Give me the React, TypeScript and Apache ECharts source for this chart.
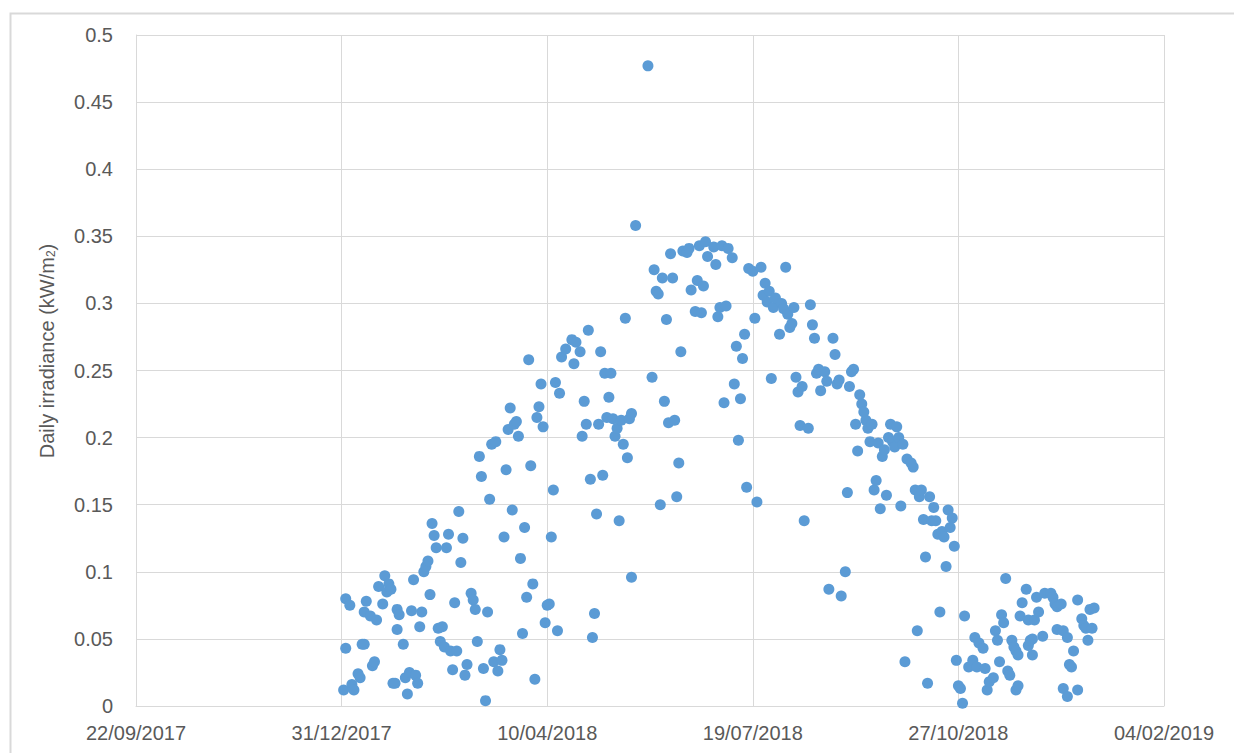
import React, { useEffect, useRef } from "react";
import * as echarts from "echarts";

// Excel date serials: 43100 = 31/12/2017; day offsets below are counted from it
const BASE_SERIAL = 43100;
const X_MIN = 43000;
const X_MAX = 43500;
const X_STEP = 100;
const Y_MIN = 0;
const Y_MAX = 0.5;
const Y_STEP = 0.05;

const Y_TITLE = "Daily irradiance (kW/m{sub|2})";

// [day offset from 31/12/2017, daily irradiance kW/m2]
const janToMar: [number, number][] = [
  [1, 0.012], [2, 0.080], [2, 0.043], [4, 0.075], [5, 0.016], [6, 0.012], [8, 0.024], [9, 0.021],
  [10, 0.046], [11, 0.046], [11, 0.070], [12, 0.078], [14, 0.067], [15, 0.030], [16, 0.033],
  [17, 0.064], [18, 0.089], [20, 0.076], [21, 0.097], [22, 0.085], [23, 0.091], [24, 0.087],
  [25, 0.017], [26, 0.017], [27, 0.057], [27, 0.072], [28, 0.068], [30, 0.046], [31, 0.021],
  [32, 0.009], [33, 0.025], [34, 0.071], [35, 0.094], [36, 0.023], [37, 0.017], [38, 0.059],
  [39, 0.070], [40, 0.100], [41, 0.104], [42, 0.108], [43, 0.083], [44, 0.136], [45, 0.127],
  [46, 0.118], [47, 0.058], [48, 0.048], [49, 0.059], [50, 0.044], [51, 0.118], [52, 0.128],
  [53, 0.041], [54, 0.027], [55, 0.077], [56, 0.041], [57, 0.145], [58, 0.107], [59, 0.125],
  [60, 0.023], [61, 0.031], [63, 0.084], [64, 0.079], [65, 0.072], [66, 0.048], [67, 0.186],
  [68, 0.171], [69, 0.028], [70, 0.004], [71, 0.070], [72, 0.154], [73, 0.195], [74, 0.033],
  [75, 0.197], [76, 0.026], [77, 0.042], [78, 0.034], [79, 0.126], [80, 0.176], [81, 0.206],
  [82, 0.222], [83, 0.146], [84, 0.210], [85, 0.212], [86, 0.201], [87, 0.110], [88, 0.054],
  [89, 0.133], [90, 0.081],
];

const aprToJun: [number, number][] = [
  [91, 0.258], [92, 0.179], [93, 0.091], [94, 0.020], [95, 0.215], [96, 0.223], [97, 0.240],
  [98, 0.208], [99, 0.062], [100, 0.075], [101, 0.076], [102, 0.126], [103, 0.161], [104, 0.241],
  [105, 0.056], [106, 0.233], [107, 0.260], [109, 0.266], [112, 0.273], [113, 0.255], [114, 0.271],
  [116, 0.264], [117, 0.201], [118, 0.227], [119, 0.210], [120, 0.280], [121, 0.169], [122, 0.051],
  [123, 0.069], [124, 0.143], [125, 0.210], [126, 0.264], [127, 0.172], [128, 0.248], [129, 0.215],
  [130, 0.230], [131, 0.248], [132, 0.214], [133, 0.201], [134, 0.207], [135, 0.138], [136, 0.213],
  [137, 0.195], [138, 0.289], [139, 0.185], [140, 0.214], [141, 0.218], [141, 0.096], [143, 0.358],
  [149, 0.477], [151, 0.245], [152, 0.325], [153, 0.309], [154, 0.307], [155, 0.150], [156, 0.319],
  [157, 0.227], [158, 0.288], [159, 0.211], [160, 0.337], [161, 0.319], [162, 0.213], [163, 0.156],
  [164, 0.181], [165, 0.264], [166, 0.339], [168, 0.338], [169, 0.341], [170, 0.310], [172, 0.294],
  [173, 0.317], [174, 0.343], [175, 0.293], [176, 0.313], [177, 0.346], [178, 0.335], [181, 0.342],
];

const julToSep: [number, number][] = [
  [182, 0.329], [183, 0.290], [184, 0.297], [185, 0.343], [186, 0.226], [187, 0.298], [188, 0.341],
  [190, 0.334], [191, 0.240], [192, 0.268], [193, 0.198], [194, 0.229], [195, 0.259], [196, 0.277],
  [197, 0.163], [198, 0.326], [200, 0.324], [201, 0.289], [202, 0.152], [204, 0.327], [205, 0.306],
  [206, 0.315], [207, 0.301], [208, 0.309], [209, 0.244], [210, 0.297], [211, 0.304], [213, 0.277],
  [214, 0.300], [215, 0.296], [216, 0.327], [217, 0.292], [218, 0.282], [219, 0.285], [220, 0.297],
  [221, 0.245], [222, 0.234], [223, 0.209], [224, 0.238], [225, 0.138], [227, 0.207], [228, 0.299],
  [229, 0.284], [230, 0.274], [231, 0.248], [232, 0.251], [233, 0.235], [235, 0.249], [236, 0.242],
  [237, 0.087], [239, 0.274], [240, 0.262], [241, 0.240], [242, 0.243], [243, 0.082], [245, 0.100],
  [246, 0.159], [247, 0.238], [248, 0.249], [249, 0.251], [250, 0.210], [251, 0.190], [252, 0.232],
  [253, 0.225], [254, 0.219], [255, 0.213], [256, 0.207], [257, 0.197], [258, 0.210], [259, 0.161],
  [260, 0.168], [261, 0.196], [262, 0.147], [263, 0.186], [264, 0.191], [265, 0.157], [266, 0.200],
  [267, 0.210], [268, 0.197], [269, 0.193], [270, 0.208], [271, 0.200], [272, 0.149], [273, 0.195],
];

const octToJan: [number, number][] = [
  [274, 0.033], [275, 0.184], [277, 0.181], [278, 0.178], [279, 0.161], [280, 0.056], [281, 0.156],
  [282, 0.161], [283, 0.139], [284, 0.111], [285, 0.017], [286, 0.156], [287, 0.138], [288, 0.148],
  [289, 0.138], [290, 0.128], [291, 0.070], [292, 0.130], [293, 0.126], [294, 0.104], [295, 0.146],
  [296, 0.133], [297, 0.140], [298, 0.119], [299, 0.034], [300, 0.015], [301, 0.013], [302, 0.002],
  [303, 0.067], [305, 0.029], [307, 0.034], [308, 0.051], [309, 0.029], [310, 0.047], [312, 0.043],
  [313, 0.028], [314, 0.012], [315, 0.018], [317, 0.021], [318, 0.056], [319, 0.049], [320, 0.033],
  [321, 0.068], [322, 0.062], [323, 0.095], [324, 0.026], [325, 0.023], [326, 0.049], [327, 0.044],
  [328, 0.012], [329, 0.015], [328, 0.041], [329, 0.038], [330, 0.067], [331, 0.077], [333, 0.087],
  [334, 0.064], [334, 0.045], [335, 0.049], [336, 0.050], [336, 0.038], [337, 0.064], [338, 0.081],
  [339, 0.070], [341, 0.052], [342, 0.084], [345, 0.084], [346, 0.081], [347, 0.076], [348, 0.057],
  [348, 0.074], [350, 0.076], [351, 0.013], [351, 0.056], [353, 0.051], [353, 0.007], [354, 0.031],
  [355, 0.029], [356, 0.041], [358, 0.012], [358, 0.079], [360, 0.065], [361, 0.060], [362, 0.058],
  [363, 0.049], [364, 0.072], [365, 0.058], [366, 0.073],
];

const TEXT_COLOR = "#595959";
const GRID_COLOR = "#D9D9D9";
const DOT_COLOR = "#5B9BD5";
const FONT = "'Liberation Sans', Arial, sans-serif";

function serialToLabel(serial: number): string {
  const ms = Date.UTC(1899, 11, 30) + Math.round(serial) * 86400000;
  const d = new Date(ms);
  const dd = String(d.getUTCDate()).padStart(2, "0");
  const mm = String(d.getUTCMonth() + 1).padStart(2, "0");
  return `${dd}/${mm}/${d.getUTCFullYear()}`;
}

export default function App() {
  const ref = useRef<HTMLDivElement>(null);

  useEffect(() => {
    if (!ref.current) return;
    const chart = echarts.init(ref.current, undefined, { renderer: "svg" });
    const points = [...janToMar, ...aprToJun, ...julToSep, ...octToJan].map(
      ([d, v]) => [BASE_SERIAL + d, v]
    );

    chart.setOption({
      animation: false,
      backgroundColor: "#ffffff",
      grid: { left: 136, right: 70, top: 35, bottom: 47, containLabel: false },
      xAxis: {
        type: "value",
        min: X_MIN,
        max: X_MAX,
        interval: X_STEP,
        axisLine: { show: true, lineStyle: { color: GRID_COLOR, width: 1 } },
        axisTick: { show: false },
        splitLine: { show: true, lineStyle: { color: GRID_COLOR, width: 1 } },
        axisLabel: {
          color: TEXT_COLOR,
          fontSize: 20,
          fontFamily: FONT,
          margin: 17,
          formatter: (v: number) => serialToLabel(v),
        },
      },
      yAxis: {
        type: "value",
        min: Y_MIN,
        max: Y_MAX,
        interval: Y_STEP,
        axisLine: { show: true, lineStyle: { color: GRID_COLOR, width: 1 } },
        axisTick: { show: false },
        splitLine: { show: true, lineStyle: { color: GRID_COLOR, width: 1 } },
        axisLabel: {
          color: TEXT_COLOR,
          fontSize: 20,
          fontFamily: FONT,
          margin: 23,
          formatter: (v: number) => String(parseFloat(v.toFixed(2))),
        },
      },
      graphic: [
        {
          type: "rect",
          left: 8,
          top: 11,
          shape: { x: 0, y: 0, width: 1260, height: 800 },
          style: { fill: "none", stroke: GRID_COLOR, lineWidth: 2 },
          silent: true,
          z: -10,
        },
        {
          type: "text",
          x: 47,
          y: 351,
          rotation: Math.PI / 2,
          style: {
            text: Y_TITLE,
            fill: TEXT_COLOR,
            fontSize: 20,
            fontFamily: FONT,
            align: "center",
            verticalAlign: "middle",
            rich: {
              sub: { fontSize: 12, fontFamily: FONT, fill: TEXT_COLOR, verticalAlign: "bottom", lineHeight: 12 },
            },
          },
          silent: true,
        },
      ],
      series: [
        {
          type: "scatter",
          data: points,
          symbol: "circle",
          symbolSize: 11,
          itemStyle: { color: DOT_COLOR, opacity: 1 },
        },
      ],
    });

    return () => chart.dispose();
  }, []);

  return (
    <div
      ref={ref}
      style={{ position: "absolute", left: 0, top: 0, width: 1234, height: 753 }}
    />
  );
}
